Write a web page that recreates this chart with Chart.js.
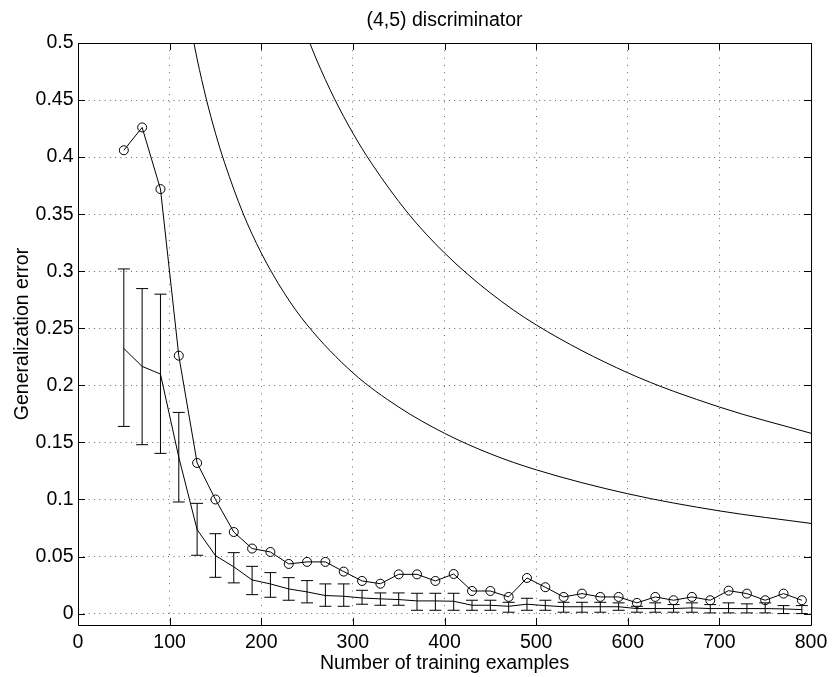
<!DOCTYPE html>
<html>
<head>
<meta charset="utf-8">
<script src="https://cdn.jsdelivr.net/npm/chart.js@4.4.1/dist/chart.umd.min.js"></script>
<style>
  html, body { margin: 0; padding: 0; background: #fff; }
  canvas { display: block; }
</style>
</head>
<body>
<canvas id="chart" width="833" height="677"></canvas>
<script>
// Training set sizes at which the discriminator was evaluated
const trainingSizes = [50, 70, 90, 110, 130, 150, 170, 190, 210, 230, 250, 270, 290, 310, 330, 350, 370, 390, 410,
  430, 450, 470, 490, 510, 530, 550, 570, 590, 610, 630, 650, 670, 690, 710, 730, 750, 770, 790];

// Test error (circle markers)
const testError = [0.406, 0.426, 0.372, 0.226, 0.132, 0.100, 0.0715, 0.057, 0.054, 0.0435, 0.0453, 0.0453, 0.0368,
  0.0286, 0.0262, 0.0344, 0.0344, 0.0286, 0.0347, 0.0198, 0.0198, 0.0146, 0.0312, 0.0231, 0.0146, 0.0175, 0.0146,
  0.0146, 0.0094, 0.0146, 0.0117, 0.0146, 0.0117, 0.0201, 0.0175, 0.0117, 0.0175, 0.0117];

// Mean error with its spread (error bars)
const meanError = [0.2323, 0.2166, 0.2099, 0.137, 0.0736, 0.0508, 0.041, 0.0295, 0.026, 0.0216, 0.019, 0.0158, 0.0152,
  0.0137, 0.0129, 0.0123, 0.0111, 0.0111, 0.0108, 0.0073, 0.0073, 0.0064, 0.0082, 0.0070, 0.0060, 0.0060, 0.0060,
  0.0060, 0.0044, 0.0044, 0.0044, 0.0050, 0.0044, 0.0044, 0.0044, 0.0044, 0.0041, 0.0035];
const errUpper = [0.302, 0.2848, 0.2799, 0.1763, 0.0966, 0.070, 0.0534, 0.0414, 0.0359, 0.0315, 0.0289, 0.026, 0.026,
  0.0204, 0.0181, 0.0181, 0.0178, 0.0178, 0.0178, 0.0117, 0.0117, 0.0099, 0.0134, 0.0117, 0.0099, 0.0099, 0.0099,
  0.0094, 0.0064, 0.0094, 0.0079, 0.0094, 0.0079, 0.0094, 0.0085, 0.0094, 0.0070, 0.0070];
const errLower = [0.164, 0.148, 0.1404, 0.0978, 0.0511, 0.0318, 0.0269, 0.0166, 0.0143, 0.0117, 0.0094, 0.0064, 0.0064,
  0.0082, 0.0073, 0.0073, 0.0029, 0.0029, 0.0029, 0.0029, 0.0029, 0.0012, 0.0029, 0.0029, 0.0012, 0.0012, 0.0012,
  0.0029, 0.0012, 0.0012, 0.0012, 0.0012, 0.0006, 0.0006, 0.0006, 0.0006, 0.0, 0.0];

// Theoretical bounds (two smooth curves)
const tightBoundN = [126, 130, 140, 150, 160, 180, 200, 225, 250, 300, 350, 400, 450, 500, 600, 700, 800];
const tightBound = [0.502, 0.486, 0.451, 0.421, 0.395, 0.351, 0.316, 0.281, 0.253, 0.211, 0.181, 0.158, 0.140,
  0.126, 0.105, 0.090, 0.079];
const looseBoundN = [252, 260, 280, 300, 320, 360, 400, 450, 500, 600, 700, 800];
const looseBound = [0.502, 0.486, 0.451, 0.421, 0.395, 0.351, 0.316, 0.281, 0.253, 0.211, 0.181, 0.158];

// Axis ticks
const xTickValues = [0, 100, 200, 300, 400, 500, 600, 700, 800];
const xTickLabels = ['0', '100', '200', '300', '400', '500', '600', '700', '800'];
const yTickValues = [0, 0.05, 0.1, 0.15, 0.2, 0.25, 0.3, 0.35, 0.4, 0.45, 0.5];
const yTickLabels = ['0', '0.05', '0.1', '0.15', '0.2', '0.25', '0.3', '0.35', '0.4', '0.45', '0.5'];

const FONT = "'Liberation Sans', Arial, Helvetica, sans-serif";
const FONT_SIZE = 19.5;

const toPoints = (xs, ys) => xs.map((x, i) => ({ x: x, y: ys[i] }));

// Vertical error bars with caps, positioned through the chart scales
const errorBars = {
  id: 'errorBars',
  afterDatasetsDraw(chart) {
    const { ctx, scales: { x, y } } = chart;
    const cap = 6;
    ctx.save();
    ctx.strokeStyle = '#000';
    ctx.lineWidth = 1;
    ctx.beginPath();
    trainingSizes.forEach((n, i) => {
      const px = x.getPixelForValue(n);
      const top = y.getPixelForValue(errUpper[i]);
      const bot = y.getPixelForValue(errLower[i]);
      ctx.moveTo(px, top); ctx.lineTo(px, bot);
      ctx.moveTo(px - cap, top); ctx.lineTo(px + cap, top);
      ctx.moveTo(px - cap, bot); ctx.lineTo(px + cap, bot);
    });
    ctx.stroke();
    ctx.restore();
  }
};

// Boxed axes with inward tick marks on all four sides
const axesBox = {
  id: 'axesBox',
  afterDraw(chart) {
    const { ctx, chartArea: { left, right, top, bottom }, scales: { x, y } } = chart;
    const len = 7;
    ctx.save();
    ctx.strokeStyle = '#000';
    ctx.lineWidth = 1;
    ctx.beginPath();
    ctx.rect(left + 0.5, top + 0.5, right - left, bottom - top);
    x.ticks.forEach(t => {
      const px = Math.round(x.getPixelForValue(t.value)) + 0.5;
      ctx.moveTo(px, bottom); ctx.lineTo(px, bottom - len);
      ctx.moveTo(px, top); ctx.lineTo(px, top + len);
    });
    y.ticks.forEach(t => {
      const py = Math.round(y.getPixelForValue(t.value)) + 0.5;
      ctx.moveTo(left, py); ctx.lineTo(left + len, py);
      ctx.moveTo(right, py); ctx.lineTo(right - len, py);
    });
    ctx.stroke();
    ctx.restore();
  }
};

Chart.defaults.font.family = FONT;
Chart.defaults.font.size = FONT_SIZE;
Chart.defaults.color = '#000';

new Chart(document.getElementById('chart'), {
  type: 'line',
  data: {
    datasets: [
      {
        label: 'Test error',
        data: toPoints(trainingSizes, testError),
        borderColor: '#000',
        borderWidth: 1,
        pointStyle: 'circle',
        pointRadius: 4.5,
        pointBorderWidth: 1,
        pointBorderColor: '#000',
        pointBackgroundColor: 'rgba(0,0,0,0)',
        tension: 0
      },
      {
        label: 'Mean error',
        data: toPoints(trainingSizes, meanError),
        borderColor: '#000',
        borderWidth: 1,
        pointRadius: 0,
        tension: 0
      },
      {
        label: 'Bound A',
        data: toPoints(tightBoundN, tightBound),
        borderColor: '#000',
        borderWidth: 1,
        pointRadius: 0,
        cubicInterpolationMode: 'monotone'
      },
      {
        label: 'Bound B',
        data: toPoints(looseBoundN, looseBound),
        borderColor: '#000',
        borderWidth: 1,
        pointRadius: 0,
        cubicInterpolationMode: 'monotone'
      }
    ]
  },
  options: {
    responsive: false,
    animation: false,
    devicePixelRatio: 1,
    layout: { padding: { left: 0, right: 20, top: 0, bottom: 0 } },
    plugins: {
      legend: { display: false },
      tooltip: { enabled: false },
      title: {
        display: true,
        text: '(4,5) discriminator',
        fullSize: false,
        color: '#000',
        font: { family: FONT, size: FONT_SIZE, weight: 'normal', lineHeight: 1.2 },
        padding: { top: 8.8, bottom: 10.8 }
      }
    },
    scales: {
      x: {
        type: 'linear',
        min: 0,
        max: 800,
        afterBuildTicks: s => { s.ticks = xTickValues.map(v => ({ value: v })); },
        afterFit: s => { s.height = 52; },
        ticks: {
          padding: 5.7,
          maxRotation: 0,
          autoSkip: false,
          callback: (v) => xTickLabels[xTickValues.indexOf(v)]
        },
        grid: { color: '#666', lineWidth: 1, drawTicks: false },
        border: { display: false, dash: [1, 6.3] },
        title: {
          display: true,
          text: 'Number of training examples',
          color: '#000',
          font: { family: FONT, size: FONT_SIZE, lineHeight: 1.2 },
          padding: { top: 0, bottom: 2.1 }
        }
      },
      y: {
        type: 'linear',
        min: -0.01,
        max: 0.5,
        afterBuildTicks: s => { s.ticks = yTickValues.map(v => ({ value: v })); },
        afterFit: s => { s.width = 78; },
        ticks: {
          padding: 4.5,
          autoSkip: false,
          callback: (v) => yTickLabels[yTickValues.indexOf(v)]
        },
        grid: { color: '#666', lineWidth: 1, drawTicks: false },
        border: { display: false, dash: [1, 4.3] },
        title: {
          display: true,
          text: 'Generalization error',
          color: '#000',
          font: { family: FONT, size: FONT_SIZE, lineHeight: 1.2 },
          padding: { top: 10.8, bottom: 0 }
        }
      }
    }
  },
  plugins: [errorBars, axesBox]
});
</script>
</body>
</html>
